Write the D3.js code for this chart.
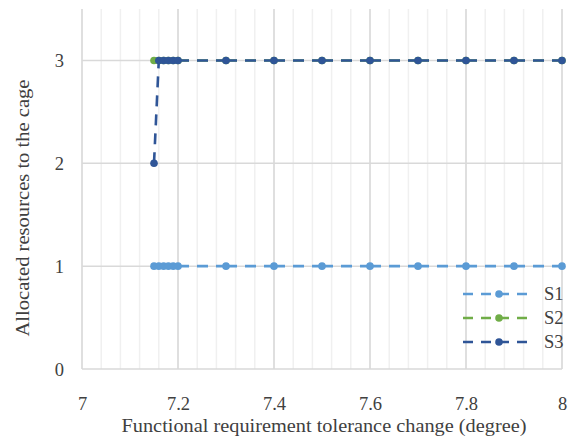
<!DOCTYPE html>
<html><head><meta charset="utf-8">
<script src="https://cdn.jsdelivr.net/npm/d3@7"></script>
<style>body{margin:0;background:#fff}svg{display:block}</style>
</head><body>
<svg id="c" width="582" height="442"></svg>
<script>
const xValues = [7.15, 7.16, 7.17, 7.18, 7.19, 7.2, 7.3, 7.4, 7.5, 7.6, 7.7, 7.8, 7.9, 8.0];
const s1 = [1, 1, 1, 1, 1, 1, 1, 1, 1, 1, 1, 1, 1, 1];
const s2 = [3, 3, 3, 3, 3, 3, 3, 3, 3, 3, 3, 3, 3, 3];
const s3 = [2, 3, 3, 3, 3, 3, 3, 3, 3, 3, 3, 3, 3, 3];
const seriesNames = ["S1", "S2", "S3"];
const seriesColors = ["#5B9BD5", "#70AD47", "#2F5597"];
const xTicks = [7, 7.2, 7.4, 7.6, 7.8, 8];
const yTicks = [0, 1, 2, 3];
const xTitle = "Functional requirement tolerance change (degree)";
const yTitle = "Allocated resources to the cage";

const FONT = "Liberation Serif";
const TXT = "#404040";
const svg = d3.select("#c");
const x = d3.scaleLinear().domain([7, 8]).range([82, 562]);
const y = d3.scaleLinear().domain([0, 3.5]).range([369, 9]);

// minor vertical gridlines
const minor = d3.range(0, 26).map(i => 7 + i * 0.04);
svg.append("g").selectAll("line").data(minor).join("line")
  .attr("x1", d => x(d)).attr("x2", d => x(d)).attr("y1", y(3.5)).attr("y2", y(0))
  .attr("stroke", "#f0f0f0").attr("stroke-width", 1.5);
// major vertical gridlines
svg.append("g").selectAll("line").data(xTicks).join("line")
  .attr("x1", d => x(d)).attr("x2", d => x(d)).attr("y1", y(3.5)).attr("y2", y(0))
  .attr("stroke", "#d9d9d9").attr("stroke-width", 1.5);
// horizontal gridlines
svg.append("g").selectAll("line").data(yTicks).join("line")
  .attr("x1", x(7)).attr("x2", x(8)).attr("y1", d => y(d)).attr("y2", d => y(d))
  .attr("stroke", "#d9d9d9").attr("stroke-width", 1.5);

// axes tick labels
const xAxis = d3.axisBottom(x).tickValues(xTicks).tickSize(0).tickPadding(0).tickFormat(d3.format("~g"));
const gx = svg.append("g").attr("transform", `translate(0,${y(0)})`).call(xAxis);
gx.attr("font-family", null).attr("font-size", null);
gx.select(".domain").remove();
gx.selectAll("text").attr("y", 41).attr("dy", null)
  .style("font-size", "18.5px").style("font-family", FONT).style("fill", TXT);

const yAxis = d3.axisLeft(y).tickValues(yTicks).tickSize(0).tickPadding(0).tickFormat(d3.format("d"));
const gy = svg.append("g").attr("transform", `translate(64,0)`).call(yAxis);
gy.attr("font-family", null).attr("font-size", null);
gy.select(".domain").remove();
gy.selectAll("text").attr("dy", "0.35em")
  .style("font-size", "18.5px").style("font-family", FONT).style("fill", TXT);

// titles
svg.append("text").attr("x", 324).attr("y", 432).attr("text-anchor", "middle")
  .style("font-family", FONT).style("font-size", "18.5px").style("fill", TXT)
  .attr("textLength", 405).attr("lengthAdjust", "spacingAndGlyphs").text(xTitle);
svg.append("text").attr("transform", "translate(29,208) rotate(-90)").attr("text-anchor", "middle")
  .style("font-family", FONT).style("font-size", "18.5px").style("fill", TXT)
  .attr("textLength", 257).attr("lengthAdjust", "spacingAndGlyphs").text(yTitle);

// series: each segment dashed separately (as in the original)
const allSeries = [s1, s2, s3];
const DASH = "11,8";
allSeries.forEach((vals, i) => {
  const pts = xValues.map((xv, j) => [xv, vals[j]]);
  const segs = d3.pairs(pts);
  const g = svg.append("g");
  g.selectAll("line").data(segs).join("line")
    .attr("x1", d => x(d[0][0])).attr("y1", d => y(d[0][1]))
    .attr("x2", d => x(d[1][0])).attr("y2", d => y(d[1][1]))
    .attr("stroke", seriesColors[i]).attr("stroke-width", 2.6).attr("stroke-dasharray", DASH);
  g.selectAll("circle").data(pts).join("circle")
    .attr("cx", d => x(d[0])).attr("cy", d => y(d[1])).attr("r", 3.8).attr("fill", seriesColors[i]);
});

// legend
const lg = svg.append("g");
seriesNames.forEach((n, i) => {
  const yy = 294 + i * 24;
  lg.append("line").attr("x1", 463).attr("x2", 533).attr("y1", yy).attr("y2", yy)
    .attr("stroke", seriesColors[i]).attr("stroke-width", 2.6).attr("stroke-dasharray", "10,8");
  lg.append("circle").attr("cx", 499).attr("cy", yy).attr("r", 3.8).attr("fill", seriesColors[i]);
  lg.append("text").attr("x", 544).attr("y", yy).attr("dy", "0.35em")
    .style("font-family", FONT).style("font-size", "18.5px").style("fill", TXT).text(n);
});
</script>
</body></html>
